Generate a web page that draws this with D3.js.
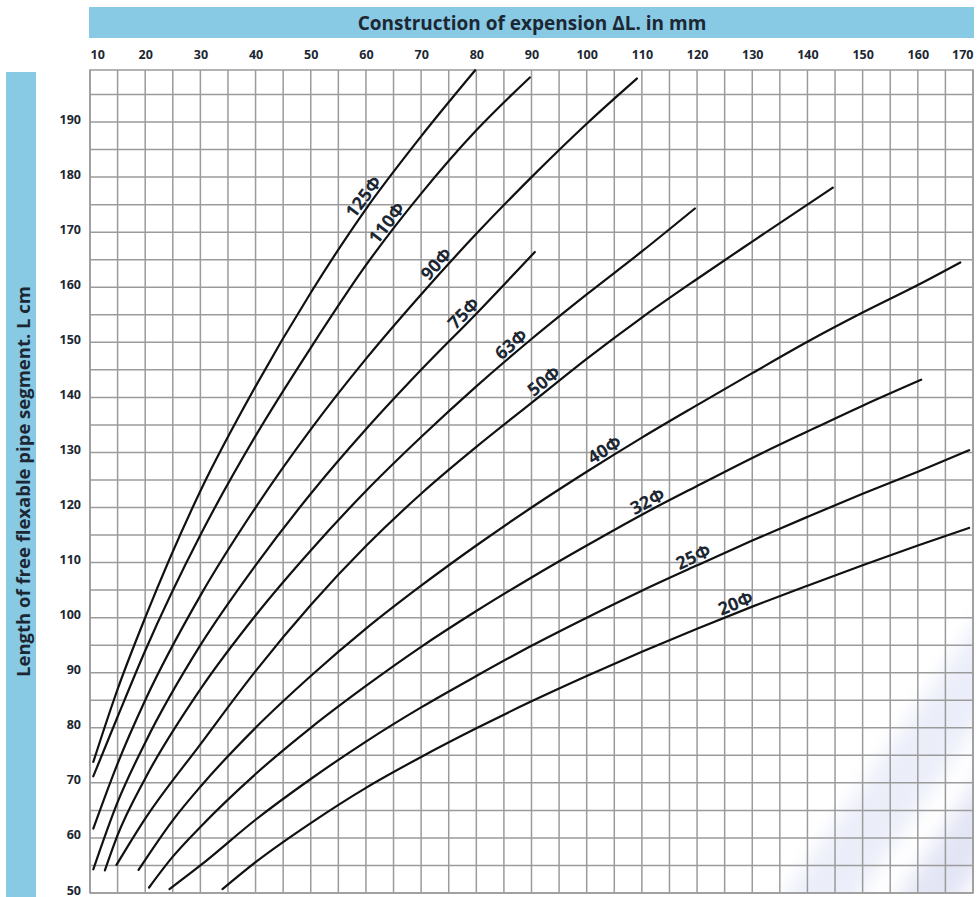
<!DOCTYPE html>
<html>
<head>
<meta charset="utf-8">
<script src="https://cdn.jsdelivr.net/npm/d3@7/dist/d3.min.js"></script>
<style>
  html, body { margin: 0; padding: 0; background: #ffffff; }
  svg { display: block; }
  text { font-family: "Open Sans", "Noto Sans", "DejaVu Sans", sans-serif; font-weight: 700; fill: #1c2733; }
</style>
</head>
<body>
<div id="chart"></div>
<script>
// Expansion compensation chart: free flexible length L (cm) against expansion ΔL (mm)

const xTickLabels = [10, 20, 30, 40, 50, 60, 70, 80, 90, 100, 110, 120, 130, 140, 150, 160, 170];
const yTickLabels = [50, 60, 70, 80, 90, 100, 110, 120, 130, 140, 150, 160, 170, 180, 190];

const pipeNames = ["125Φ", "110Φ", "90Φ", "75Φ", "63Φ", "50Φ", "40Φ", "32Φ", "25Φ", "20Φ"];

// [ΔL mm, L cm] pairs for each pipe diameter
const pipe125 = [[10.6, 73.8], [15, 87], [20, 100], [30, 123], [40, 142], [50, 159], [60, 174.2], [70, 187.4], [79.8, 199.4]];
const pipe110 = [[10.6, 71.2], [15, 82], [20, 94], [30, 115], [40, 133], [50, 149], [60, 164], [70, 177], [80, 188.5], [89.7, 198.1]];
const pipe90  = [[10.6, 61.7], [15, 73.5], [20, 85], [30, 104], [40, 120], [50, 134.2], [60, 147], [70, 158.7], [80, 169.7], [90, 180], [100, 189.7], [109.1, 197.9]];
const pipe75  = [[10.6, 54.3], [15, 66.5], [20, 77.3], [30, 95], [40, 109.5], [50, 122.5], [60, 134.2], [70, 145], [80, 155.2], [90.6, 166.4]];
const pipe63  = [[12.7, 54.1], [15, 60.5], [20, 70.8], [30, 87], [40, 100.4], [50, 112.2], [60, 123], [70, 132.8], [80, 142], [90, 150.6], [100, 158.7], [110, 166.5], [119.6, 174.3]];
const pipe50  = [[14.8, 55.1], [20, 63.5], [30, 77], [40, 90.3], [50, 102.3], [60, 113], [70, 122.5], [80, 131], [90, 139], [100, 147], [110, 154.5], [120, 161.5], [130, 168.3], [144.6, 178.1]];
const pipe40  = [[18.8, 54.2], [25, 63.2], [30, 69.3], [40, 80], [50, 89.4], [60, 98], [70, 105.8], [80, 113.1], [90, 120], [100, 126.5], [110, 132.7], [120, 138.6], [130, 144.4], [140, 150.1], [150, 155.4], [160, 160.4], [167.7, 164.5]];
const pipe32  = [[20.7, 51], [25, 56.6], [30, 62], [40, 71.6], [50, 80], [60, 87.6], [70, 94.7], [80, 101.2], [90, 107.3], [100, 113.1], [110, 118.7], [120, 123.9], [130, 129], [140, 133.8], [150, 138.5], [160.6, 143.2]];
const pipe25  = [[24.4, 50.7], [30, 55], [40, 63.3], [50, 70.7], [60, 77.5], [70, 83.7], [80, 89.4], [90, 94.9], [100, 100], [110, 104.9], [120, 109.5], [130, 114], [140, 118.3], [150, 122.5], [160, 126.5], [169.3, 130.4]];
const pipe20  = [[34, 50.7], [40, 55.6], [50, 62.7], [60, 69.1], [70, 74.7], [80, 79.9], [90, 84.8], [100, 89.4], [110, 93.8], [120, 98], [130, 102], [140, 105.8], [150, 109.5], [160, 113.1], [169.3, 116.3]];

// ΔL at which each diameter's name sits along its curve
const labelAt = [60.9, 65.1, 74, 78.9, 87.4, 93.3, 104.1, 111.8, 120, 127.6];

const series = [pipe125, pipe110, pipe90, pipe75, pipe63, pipe50, pipe40, pipe32, pipe25, pipe20];

const W = 977, H = 897;
const plot = { left: 90, right: 973, top: 70, bottom: 893 };

const x = d3.scaleLinear().domain([10, 170]).range([plot.left, plot.right]);
const y = d3.scaleLinear().domain([50, 199.45]).range([plot.bottom, plot.top]);

const svg = d3.select("#chart").append("svg").attr("width", W).attr("height", H);

const defs = svg.append("defs");
defs.append("clipPath").attr("id", "plot-clip")
  .append("rect")
  .attr("x", plot.left).attr("y", plot.top)
  .attr("width", plot.right - plot.left).attr("height", plot.bottom - plot.top);
defs.append("filter").attr("id", "soft")
  .attr("x", "-20%").attr("y", "-20%").attr("width", "140%").attr("height", "140%")
  .append("feGaussianBlur").attr("stdDeviation", 10);

// Title band across the top
svg.append("rect")
  .attr("x", 89).attr("y", 7).attr("width", 885).attr("height", 31)
  .attr("fill", "#88c9e4");
svg.append("text")
  .attr("x", 532).attr("y", 23)
  .attr("text-anchor", "middle").attr("dominant-baseline", "central")
  .style("font-size", "19px")
  .text("Construction of expension ΔL. in mm");

// Band along the left side
svg.append("rect")
  .attr("x", 6).attr("y", 72).attr("width", 30).attr("height", 825)
  .attr("fill", "#88c9e4");
svg.append("text")
  .attr("transform", `translate(22,${(plot.top + plot.bottom) / 2}) rotate(-90)`)
  .attr("text-anchor", "middle").attr("dominant-baseline", "central")
  .style("font-size", "18.5px")
  .text("Length of free flexable pipe segment. L cm");

// Faint diagonal shading in the lower right of the grid
const shade = svg.append("g").attr("clip-path", "url(#plot-clip)")
  .append("g").attr("filter", "url(#soft)");
shade.append("polygon")
  .attr("points", "775,910 850,910 1000,690 1000,590")
  .attr("fill", "#e3e7f6").attr("opacity", 0.7);
shade.append("polygon")
  .attr("points", "890,910 950,910 1000,840 1000,745")
  .attr("fill", "#dcdff2").attr("opacity", 0.8);

// Grid every 5 units
const grid = svg.append("g").attr("stroke", "#9b9b9b").attr("stroke-width", 1.5);
grid.selectAll("line.v")
  .data(d3.range(10, 170.1, 5))
  .join("line").attr("class", "v")
  .attr("x1", d => x(d)).attr("x2", d => x(d))
  .attr("y1", plot.top).attr("y2", plot.bottom);
grid.selectAll("line.h")
  .data(d3.range(50, 199, 5))
  .join("line").attr("class", "h")
  .attr("y1", d => y(d)).attr("y2", d => y(d))
  .attr("x1", plot.left).attr("x2", plot.right);
grid.append("rect")
  .attr("x", plot.left).attr("y", plot.top)
  .attr("width", plot.right - plot.left).attr("height", plot.bottom - plot.top)
  .attr("fill", "none");

// Axis tick labels
const xAxis = d3.axisTop(x).tickValues(xTickLabels).tickSize(0).tickPadding(0);
const gx = svg.append("g").attr("transform", "translate(0,59)").call(xAxis);
gx.select(".domain").remove();
gx.selectAll("text")
  .style("font-size", "12.5px").attr("fill", "#1c2733")
  .attr("text-anchor", (d, i) => i === 0 ? "start" : (i === xTickLabels.length - 1 ? "end" : "middle"));

const yAxis = d3.axisLeft(y).tickValues(yTickLabels).tickSize(0).tickPadding(0);
const gy = svg.append("g").attr("transform", "translate(81,-3)").call(yAxis);
gy.select(".domain").remove();
gy.selectAll("text").style("font-size", "12.5px").attr("fill", "#1c2733");

// Curves
const line = d3.line().x(d => x(d[0])).y(d => y(d[1])).curve(d3.curveMonotoneX);
svg.append("g")
  .selectAll("path")
  .data(series)
  .join("path")
  .attr("d", line)
  .attr("fill", "none")
  .attr("stroke", "#111111")
  .attr("stroke-width", 2.2)
  .attr("stroke-linecap", "round");

// Curve names, set along each curve just above it
function pointOn(pts, dl) {
  for (let i = 0; i < pts.length - 1; i++) {
    const a = pts[i], b = pts[i + 1];
    if (dl >= a[0] && dl <= b[0]) {
      const t = (dl - a[0]) / (b[0] - a[0]);
      return { p: [a[0] + t * (b[0] - a[0]), a[1] + t * (b[1] - a[1])], a, b };
    }
  }
  const n = pts.length;
  return { p: pts[n - 1], a: pts[n - 2], b: pts[n - 1] };
}

const labels = svg.append("g");
series.forEach((pts, i) => {
  const { p, a, b } = pointOn(pts, labelAt[i]);
  const px = x(p[0]), py = y(p[1]);
  const dx = x(b[0]) - x(a[0]), dy = y(b[1]) - y(a[1]);
  const ang = Math.atan2(dy, dx);
  const len = Math.hypot(dx, dy);
  const off = 10;
  const nx = dy / len * off, ny = -dx / len * off;
  labels.append("text")
    .attr("transform", `translate(${px + nx},${py + ny}) rotate(${ang * 180 / Math.PI})`)
    .attr("text-anchor", "middle").attr("dominant-baseline", "central")
    .style("font-size", "18px")
    .attr("fill", "#111111")
    .text(pipeNames[i]);
});
</script>
</body>
</html>
